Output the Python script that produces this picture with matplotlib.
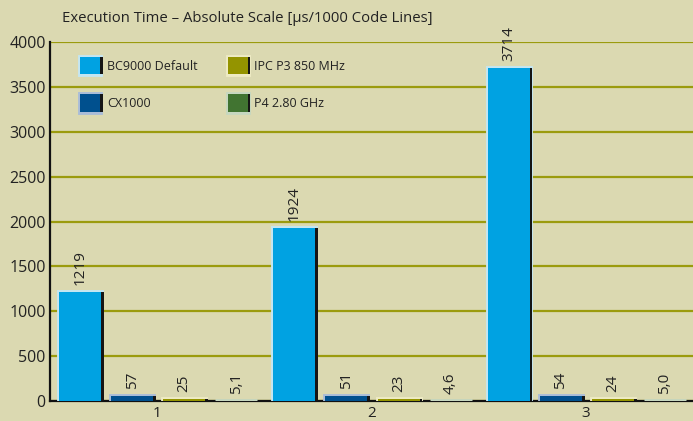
import matplotlib
matplotlib.use("Agg")
import matplotlib.pyplot as plt
import matplotlib.patheffects as pe
import numpy as np

plt.rcParams['font.family'] = ['Open Sans', 'DejaVu Sans']

groups = ["1", "2", "3"]
series = ["BC9000 Default", "CX1000", "IPC P3 850 MHz", "P4 2.80 GHz"]
values = {
    "BC9000 Default": [1219, 1924, 3714],
    "CX1000": [57, 51, 54],
    "IPC P3 850 MHz": [25, 23, 24],
    "P4 2.80 GHz": [5.1, 4.6, 5.0],
}
labels = {
    "BC9000 Default": ["1219", "1924", "3714"],
    "CX1000": ["57", "51", "54"],
    "IPC P3 850 MHz": ["25", "23", "24"],
    "P4 2.80 GHz": ["5,1", "4,6", "5,0"],
}
colors = ["#00A2E2", "#00508E", "#949400", "#417431"]
edge_light = ["#C4E6F2", "#A9BCD8", "#EEEBC4", "#C6D7C0"]
yticks = [0, 500, 1000, 1500, 2000, 2500, 3000, 3500, 4000]
title = "Execution Time \u2013 Absolute Scale [\u00b5s/1000 Code Lines]"

bg = "#DBD9B1"
text_c = "#222222"
fig = plt.figure(figsize=(6.93, 4.21), dpi=100, facecolor=bg)
ax = fig.add_axes([50/693, 20/421, 643/693, 359/421], facecolor=bg)

x = np.arange(len(groups))
offsets = [-0.36, -0.117, 0.126, 0.369]
width = 0.196
handles = []
for i, s in enumerate(series):
    effects = [pe.Stroke(linewidth=3.5, foreground=edge_light[i]),
               pe.SimplePatchShadow(offset=(2, 0), shadow_rgbFace="#151515", alpha=1.0),
               pe.Normal()]
    bars = ax.bar(x + offsets[i], values[s], width, color=colors[i], linewidth=0,
                  zorder=3, path_effects=effects)
    handles.append(bars)
    for xi, v, lab in zip(x + offsets[i], values[s], labels[s]):
        ax.annotate(lab, xy=(xi, v), xytext=(0, 5), textcoords="offset points",
                    rotation=90, ha="center", va="bottom", fontsize=11, color=text_c, zorder=4)

ax.set_xlim(-0.5, 2.5)
ax.set_ylim(0, 4000)
ax.set_yticks(yticks)
ax.set_yticklabels([str(t) for t in yticks], fontsize=11.5, color=text_c)
ax.set_xticks(x)
ax.set_xticklabels(groups, fontsize=11, color=text_c)
ax.tick_params(axis="y", length=0, pad=3)
ax.tick_params(axis="x", length=0, pad=3.5)
ax.yaxis.grid(True, color="#9B9B0E", linewidth=1.6, zorder=1)
ax.set_axisbelow(True)
for sp in ["top", "right"]:
    ax.spines[sp].set_visible(False)
for sp in ["left", "bottom"]:
    ax.spines[sp].set_color("#111111")
    ax.spines[sp].set_linewidth(1.6)

fig.text(62/693, 1 - 19/421, title, fontsize=10.7, color=text_c, va="center", ha="left")

leg = ax.legend(handles, series, loc="upper left", bbox_to_anchor=(80/693, 1 - 57/421),
                bbox_transform=fig.transFigure, ncol=2, frameon=False, fontsize=9,
                handlelength=1.6, handleheight=1.75, borderpad=0, borderaxespad=0,
                columnspacing=2.4, labelspacing=1.6, handletextpad=0.55)
for t in leg.get_texts():
    t.set_color(text_c)

fig.savefig("out.png", dpi=100, facecolor=bg)
